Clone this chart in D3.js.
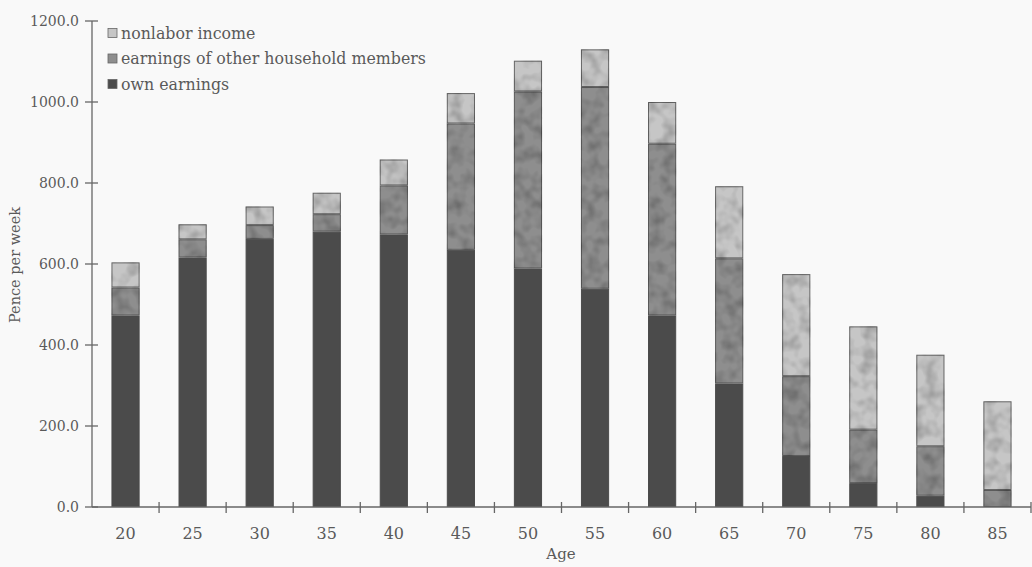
<!DOCTYPE html>
<html>
<head>
<meta charset="utf-8">
<script src="https://cdn.jsdelivr.net/npm/d3@7"></script>
<style>
  html, body { margin: 0; padding: 0; background: #f9f9f9; }
  svg { display: block; }
  text { font-family: "DejaVu Serif", "Liberation Serif", serif; fill: #5a5a5a; }
</style>
</head>
<body>
<svg id="chart" width="1032" height="567"></svg>
<script>
// ---- data ----
const ages = ["20", "25", "30", "35", "40", "45", "50", "55", "60", "65", "70", "75", "80", "85"];
const ownEarnings   = [473, 616, 662, 680, 673, 635, 589, 539, 473, 305, 126, 59, 28, 0];
const otherEarnings = [69, 45, 34, 43, 121, 312, 437, 498, 424, 309, 197, 132, 122, 42];
const nonlaborIncome = [62, 37, 46, 53, 64, 75, 76, 93, 103, 178, 252, 255, 226, 219];
const seriesNames = ["own earnings", "earnings of other household members", "nonlabor income"];
const yTicks = [0, 200, 400, 600, 800, 1000, 1200];

const svg = d3.select("#chart");

// texture filter
const defs = svg.append("defs");
const f = defs.append("filter").attr("id", "mottle").attr("x", 0).attr("y", 0).attr("width", 1).attr("height", 1);
f.append("feTurbulence").attr("type", "fractalNoise").attr("baseFrequency", 0.08).attr("numOctaves", 2).attr("seed", 3).attr("result", "noise");
f.append("feColorMatrix").attr("in", "noise").attr("type", "matrix")
  .attr("values", "0 0 0 0 0  0 0 0 0 0  0 0 0 0 0  0 0 0 0.9 -0.35").attr("result", "dark");
f.append("feComposite").attr("in", "dark").attr("in2", "SourceGraphic").attr("operator", "in").attr("result", "darkIn");
f.append("feMerge").selectAll("feMergeNode").data(["SourceGraphic", "darkIn"]).enter()
  .append("feMergeNode").attr("in", d => d);

const table = ages.map((a, i) => ({
  age: a,
  own: ownEarnings[i],
  other: otherEarnings[i],
  nonlabor: nonlaborIncome[i]
}));
const keys = ["own", "other", "nonlabor"];
const fills = { own: "#4b4b4b", other: "#8e8e8e", nonlabor: "#c6c6c6" };
const strokes = { own: "#4b4b4b", other: "#5a5a5a", nonlabor: "#666" };

const x = d3.scaleBand().domain(ages).range([92, 1031]).paddingInner(0.58).paddingOuter(0.29);
const y = d3.scaleLinear().domain([0, 1200]).range([507, 21]);

const stack = d3.stack().keys(keys)(table);

// bars
const layers = svg.append("g").selectAll("g").data(stack).enter().append("g")
  .attr("fill", d => fills[d.key])
  .attr("stroke", d => strokes[d.key])
  .attr("stroke-width", 1)
  .attr("filter", d => d.key === "own" ? null : "url(#mottle)");
layers.selectAll("rect").data(d => d.filter(s => s[1] > s[0])).enter().append("rect")
  .attr("x", d => x(d.data.age) + 0.5)
  .attr("y", d => y(d[1]) + 0.5)
  .attr("width", x.bandwidth() - 1)
  .attr("height", d => Math.max(0, y(d[0]) - y(d[1]) - 1));

// y axis
const axisColor = "#666";
const yAxis = svg.append("g");
yAxis.append("line").attr("x1", 92).attr("x2", 92).attr("y1", y(1200)).attr("y2", y(0))
  .attr("stroke", axisColor).attr("stroke-width", 1.3);
yAxis.selectAll("line.t").data(yTicks).enter().append("line").attr("class", "t")
  .attr("x1", 85).attr("x2", 98).attr("y1", d => y(d)).attr("y2", d => y(d))
  .attr("stroke", axisColor).attr("stroke-width", 1.3);
yAxis.selectAll("text").data(yTicks).enter().append("text")
  .attr("x", 79).attr("y", d => y(d)).attr("dy", "0.35em")
  .attr("text-anchor", "end").attr("font-size", 14)
  .text(d => d3.format(".1f")(d));

// x axis
const xAxis = svg.append("g");
xAxis.append("line").attr("x1", 92).attr("x2", 1031).attr("y1", y(0)).attr("y2", y(0))
  .attr("stroke", axisColor).attr("stroke-width", 1.3);
const step = x.step();
const bounds = ages.map(a => x(a) + x.bandwidth() / 2 + step / 2);
xAxis.selectAll("line.t").data(bounds).enter().append("line").attr("class", "t")
  .attr("x1", d => d).attr("x2", d => d).attr("y1", y(0) - 5).attr("y2", y(0) + 6)
  .attr("stroke", axisColor).attr("stroke-width", 1.3);
xAxis.selectAll("text").data(ages).enter().append("text")
  .attr("x", d => x(d) + x.bandwidth() / 2).attr("y", 533).attr("dy", "0.35em")
  .attr("text-anchor", "middle").attr("font-size", 16)
  .text(d => d);

// axis titles
svg.append("text").attr("x", 561).attr("y", 554).attr("dy", "0.35em")
  .attr("text-anchor", "middle").attr("font-size", 15).text("Age");
svg.append("text").attr("transform", "translate(15,265) rotate(-90)")
  .attr("text-anchor", "middle").attr("dy", "0.35em").attr("font-size", 14.5).text("Pence per week");

// legend
const legendItems = [
  { key: "nonlabor", name: seriesNames[2] },
  { key: "other", name: seriesNames[1] },
  { key: "own", name: seriesNames[0] }
];
const lg = svg.append("g").selectAll("g").data(legendItems).enter().append("g")
  .attr("transform", (d, i) => `translate(108, ${33 + i * 25.5})`);
lg.append("rect").attr("x", 0).attr("y", -4.5).attr("width", 9).attr("height", 9)
  .attr("fill", d => fills[d.key]).attr("stroke", "#666").attr("stroke-width", 0.8);
lg.append("text").attr("x", 13).attr("y", 0).attr("dy", "0.35em")
  .attr("font-size", 15.8).text(d => d.name);
</script>
</body>
</html>
